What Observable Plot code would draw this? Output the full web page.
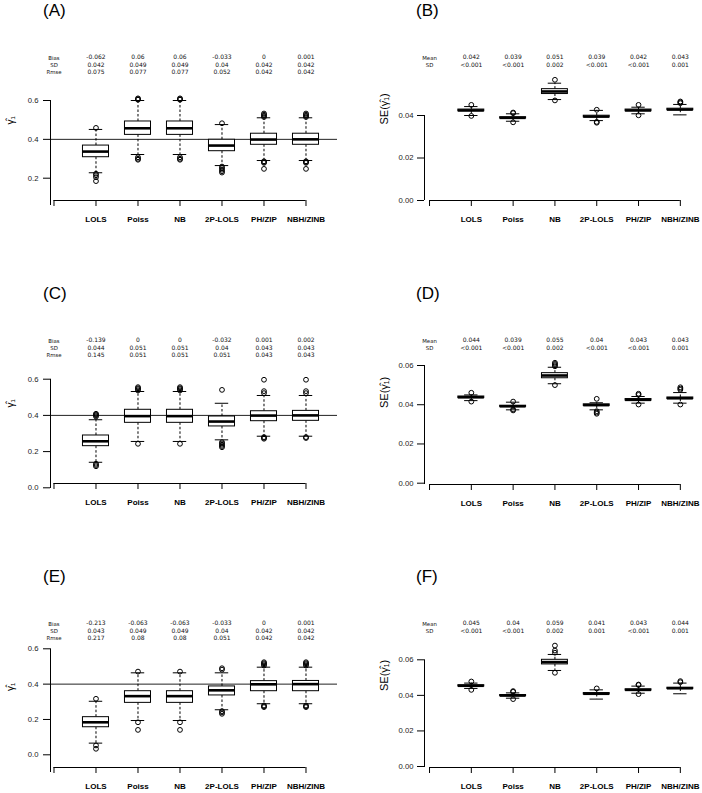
<!DOCTYPE html>
<html><head><meta charset="utf-8">
<script src="https://cdn.jsdelivr.net/npm/d3@7"></script>
<script src="https://cdn.jsdelivr.net/npm/@observablehq/plot@0.6"></script>
<style>
body{margin:0;background:#fff;}
#chart{position:relative;width:702px;height:793px;overflow:hidden;background:#fff;font-family:"Liberation Sans",Arial,sans-serif;}
.panel{position:absolute;}
.tag{position:absolute;font-size:17px;line-height:17px;color:#000;}
</style></head><body><div id="chart"></div>
<script>
const methods = ["LOLS","Poiss","NB","2P-LOLS","PH/ZIP","NBH/ZINB"];

// ---- Panel A: gamma-hat estimates
const aLow  = [0.228, 0.322, 0.322, 0.265, 0.291, 0.291];
const aQ1   = [0.308, 0.423, 0.423, 0.339, 0.372, 0.372];
const aMed  = [0.337, 0.457, 0.457, 0.368, 0.399, 0.400];
const aQ3   = [0.368, 0.492, 0.492, 0.398, 0.429, 0.429];
const aHigh = [0.451, 0.600, 0.600, 0.476, 0.511, 0.511];
const aOut  = [[0.459,0.223,0.215,0.205,0.185],[0.604,0.607,0.611,0.308,0.300,0.295],[0.604,0.607,0.611,0.308,0.300,0.295],[0.483,0.260,0.252,0.244,0.236,0.229],[0.515,0.521,0.527,0.533,0.287,0.283,0.279,0.248],[0.515,0.521,0.527,0.533,0.287,0.283,0.279,0.248]];
const aBias = ["-0.062","0.06","0.06","-0.033","0","0.001"];
const aSD   = ["0.042","0.049","0.049","0.04","0.042","0.042"];
const aRmse = ["0.075","0.077","0.077","0.052","0.042","0.042"];

// ---- Panel B: SE estimates
const bLow  = [0.0400, 0.0373, 0.0475, 0.0376, 0.0408, 0.0403];
const bQ1   = [0.0420, 0.0386, 0.0501, 0.0391, 0.0420, 0.0425];
const bMed  = [0.0424, 0.0389, 0.0513, 0.0395, 0.0424, 0.0428];
const bQ3   = [0.0428, 0.0392, 0.0524, 0.0399, 0.0428, 0.0432];
const bHigh = [0.0442, 0.0408, 0.0552, 0.0424, 0.0439, 0.0452];
const bOut  = [[0.0450,0.0398],[0.0411,0.0414,0.0368],[0.0568,0.0471],[0.0427,0.0366,0.0370],[0.0450,0.0401],[0.0458,0.0462,0.0466]];
const bMean = ["0.042","0.039","0.051","0.039","0.042","0.043"];
const bSD   = ["<0.001","<0.001","0.002","<0.001","<0.001","0.001"];

// ---- Panel C
const cLow  = [0.141, 0.256, 0.256, 0.265, 0.285, 0.285];
const cQ1   = [0.230, 0.359, 0.359, 0.339, 0.368, 0.370];
const cMed  = [0.257, 0.396, 0.396, 0.366, 0.399, 0.400];
const cQ3   = [0.289, 0.431, 0.431, 0.394, 0.423, 0.425];
const cHigh = [0.376, 0.532, 0.532, 0.467, 0.510, 0.510];
const cOut  = [[0.394,0.400,0.405,0.409,0.133,0.126,0.119],[0.538,0.545,0.550,0.556,0.243],[0.538,0.545,0.550,0.556,0.243],[0.541,0.252,0.245,0.238,0.231,0.224],[0.523,0.534,0.597,0.280,0.276,0.271],[0.523,0.534,0.597,0.280,0.275]];
const cBias = ["-0.139","0","0","-0.032","0.001","0.002"];
const cSD   = ["0.044","0.051","0.051","0.04","0.043","0.043"];
const cRmse = ["0.145","0.051","0.051","0.051","0.043","0.043"];

// ---- Panel D
const dLow  = [0.0421, 0.0374, 0.0507, 0.0374, 0.0408, 0.0408];
const dQ1   = [0.0434, 0.0389, 0.0535, 0.0394, 0.0421, 0.0429];
const dMed  = [0.0438, 0.0392, 0.0549, 0.0398, 0.0425, 0.0433];
const dQ3   = [0.0442, 0.0395, 0.0561, 0.0402, 0.0429, 0.0437];
const dHigh = [0.0450, 0.0413, 0.0591, 0.0410, 0.0442, 0.0462];
const dOut  = [[0.0461,0.0416],[0.0416,0.0376,0.0371],[0.0596,0.0602,0.0608,0.0614,0.0500],[0.0430,0.0367,0.0360,0.0354],[0.0450,0.0456,0.0401],[0.0476,0.0482,0.0489,0.0401]];
const dMean = ["0.044","0.039","0.055","0.04","0.043","0.043"];
const dSD   = ["<0.001","<0.001","0.002","<0.001","<0.001","0.001"];

// ---- Panel E
const eLow  = [0.066, 0.194, 0.194, 0.255, 0.289, 0.289];
const eQ1   = [0.156, 0.294, 0.294, 0.336, 0.360, 0.360];
const eMed  = [0.184, 0.332, 0.332, 0.365, 0.399, 0.400];
const eQ3   = [0.213, 0.360, 0.360, 0.387, 0.417, 0.418];
const eHigh = [0.303, 0.464, 0.464, 0.464, 0.496, 0.496];
const eOut  = [[0.317,0.053,0.034],[0.471,0.184,0.141],[0.471,0.184,0.141],[0.482,0.490,0.247,0.240,0.232],[0.505,0.512,0.518,0.524,0.279,0.274,0.270],[0.505,0.512,0.518,0.524,0.279,0.274,0.270]];
const eBias = ["-0.213","-0.063","-0.063","-0.033","0","0.001"];
const eSD   = ["0.043","0.049","0.049","0.04","0.042","0.042"];
const eRmse = ["0.217","0.08","0.08","0.051","0.042","0.042"];

// ---- Panel F
const fLow  = [0.0439, 0.0384, 0.0540, 0.0379, 0.0412, 0.0409];
const fQ1   = [0.0450, 0.0396, 0.0574, 0.0405, 0.0427, 0.0436];
const fMed  = [0.0454, 0.0399, 0.0587, 0.0409, 0.0431, 0.0440];
const fQ3   = [0.0457, 0.0402, 0.0600, 0.0413, 0.0434, 0.0443];
const fHigh = [0.0469, 0.0414, 0.0630, 0.0431, 0.0452, 0.0469];
const fOut  = [[0.0478,0.0431],[0.0420,0.0424,0.0379],[0.0640,0.0652,0.0680,0.0527],[0.0439],[0.0458,0.0461,0.0407],[0.0474,0.0480]];
const fMean = ["0.045","0.04","0.059","0.041","0.043","0.044"];
const fSD   = ["<0.001","<0.001","0.002","0.001","<0.001","0.001"];

const leftStatLabels = ["Bias","SD","Rmse"];
const rightStatLabels = ["Mean","SD"];
const leftTitle = "\u03B3\u0302\u2081";
const rightTitle = "SE(\u03B3\u0302\u2081)";
const leftTicks = [0.2, 0.4, 0.6];
const leftTicks0 = [0, 0.2, 0.4, 0.6];
const rightTicksB = [0, 0.02, 0.04];
const rightTicks = [0, 0.02, 0.04, 0.06];
const trueValue = 0.4;

// layout (pixel placement of each panel)
const rowTops = [0, 283, 566];
const rowHeights = [283, 283, 227];
const panels = [
  {tag:"(A)", col:0, row:0, lo:aLow, q1:aQ1, med:aMed, q3:aQ3, hi:aHigh, out:aOut, stats:[aBias,aSD,aRmse], labels:leftStatLabels, title:leftTitle, ticks:leftTicks, fmt:".1f", ref:trueValue, yRef:[[0.2,177.7],[0.6,100]], xAxisY:200},
  {tag:"(B)", col:1, row:0, lo:bLow, q1:bQ1, med:bMed, q3:bQ3, hi:bHigh, out:bOut, stats:[bMean,bSD], labels:rightStatLabels, title:rightTitle, ticks:rightTicksB, fmt:".2f", ref:null, yRef:[[0,200],[0.04,115]], xAxisY:200},
  {tag:"(C)", col:0, row:1, lo:cLow, q1:cQ1, med:cMed, q3:cQ3, hi:cHigh, out:cOut, stats:[cBias,cSD,cRmse], labels:leftStatLabels, title:leftTitle, ticks:leftTicks0, fmt:".1f", ref:trueValue, yRef:[[0,204.3],[0.6,95.7]], xAxisY:200},
  {tag:"(D)", col:1, row:1, lo:dLow, q1:dQ1, med:dMed, q3:dQ3, hi:dHigh, out:dOut, stats:[dMean,dSD], labels:rightStatLabels, title:rightTitle, ticks:rightTicks, fmt:".2f", ref:null, yRef:[[0,199.7],[0.06,82]], xAxisY:201},
  {tag:"(E)", col:0, row:2, lo:eLow, q1:eQ1, med:eMed, q3:eQ3, hi:eHigh, out:eOut, stats:[eBias,eSD,eRmse], labels:leftStatLabels, title:leftTitle, ticks:leftTicks0, fmt:".1f", ref:trueValue, yRef:[[0,188.3],[0.6,82.3]], xAxisY:201},
  {tag:"(F)", col:1, row:2, lo:fLow, q1:fQ1, med:fMed, q3:fQ3, hi:fHigh, out:fOut, stats:[fMean,fSD], labels:rightStatLabels, title:rightTitle, ticks:rightTicks, fmt:".2f", ref:null, yRef:[[0,200],[0.06,93.3]], xAxisY:201}
];

const boxHalf = 0.31, stapleHalf = 0.16;
const chart = document.getElementById("chart");

function makePanel(p) {
  const left = p.col === 0;
  const H = rowHeights[p.row];
  const ml = left ? 50 : 73, mr = left ? 14 : 0;
  const xDom = left ? [-0.083, 6.75] : [-0.12, 6.53];
  const ys = d3.scaleLinear().domain([p.yRef[0][0], p.yRef[1][0]]).range([p.yRef[0][1], p.yRef[1][1]]);
  const yAxisBottom = ys.invert(left ? p.xAxisY + 5 : p.xAxisY);
  const xAxisVal = ys.invert(p.xAxisY);
  const boxes = methods.map((m, i) => ({pos: i + 1, lo: p.lo[i], q1: p.q1[i], med: p.med[i], q3: p.q3[i], hi: p.hi[i]}));
  const outs = p.out.flatMap((arr, i) => arr.map(v => ({pos: i + 1, v})));
  const statCols = methods.map((m, i) => ({pos: i + 1, text: p.stats.map(s => s[i]).join("\n")}));
  const font = "'Liberation Sans', Arial, sans-serif";
  const statFont = "'DejaVu Sans', 'Liberation Sans', sans-serif";
  const marks = [];
  if (p.ref != null) marks.push(Plot.ruleY([p.ref], {stroke: "#222", strokeWidth: 1}));
  marks.push(
    Plot.ruleX(boxes, {x: "pos", y1: "q3", y2: "hi", stroke: "#000", strokeDasharray: "2.5,2"}),
    Plot.ruleX(boxes, {x: "pos", y1: "q1", y2: "lo", stroke: "#000", strokeDasharray: "2.5,2"}),
    Plot.ruleY(boxes, {y: "hi", x1: d => d.pos - stapleHalf, x2: d => d.pos + stapleHalf, stroke: "#000"}),
    Plot.ruleY(boxes, {y: "lo", x1: d => d.pos - stapleHalf, x2: d => d.pos + stapleHalf, stroke: "#000"}),
    Plot.rect(boxes, {x1: d => d.pos - boxHalf, x2: d => d.pos + boxHalf, y1: "q1", y2: "q3", fill: "#fff", stroke: "#000", strokeWidth: 1}),
    Plot.ruleY(boxes, {y: "med", x1: d => d.pos - boxHalf, x2: d => d.pos + boxHalf, stroke: "#000", strokeWidth: 2.6}),
    Plot.dot(outs, {x: "pos", y: "v", r: 2.4, stroke: "#000", fill: "none", strokeWidth: 1}),
    // y axis
    Plot.ruleX([xDom[0]], {y1: yAxisBottom, y2: d3.max(p.ticks), stroke: "#000"}),
    Plot.axisY({ticks: p.ticks, tickFormat: d3.format(p.fmt), tickSize: 7, tickPadding: left ? 5 : 4, fontSize: 7.7, fill: "#222", label: null}),
    // x axis
    Plot.ruleY([xAxisVal], {x1: 0, x2: 6, stroke: "#000"}),
    Plot.axisX({ticks: d3.range(0, 7), tickSize: 6, tickPadding: 10, tickFormat: d => methods[d - 1] ?? "", fontSize: 8, fontWeight: "bold", fill: "#000", label: null}),
    // stats
    Plot.text(statCols, {x: "pos", text: "text", frameAnchor: "top", lineAnchor: "top", fontSize: 6, lineHeight: 1.17, fontFamily: statFont, fill: "#111"}),
    Plot.text([{pos: 0, text: p.labels.join("\n")}], {x: "pos", text: "text", frameAnchor: "top", lineAnchor: "top", fontSize: 5.4, lineHeight: 1.3, dy: 0.4, fontFamily: statFont, fill: "#111"}),
    // y title
    Plot.text([p.title], {text: d => d, frameAnchor: "left", rotate: -90, dx: -40, dy: -3, fontSize: left ? 10 : 11, fill: "#000"})
  );
  const svg = Plot.plot({
    width: 351, height: H,
    marginLeft: ml, marginRight: mr, marginTop: 54, marginBottom: H - p.xAxisY,
    x: {domain: xDom},
    y: {domain: ys.domain(), range: ys.range()},
    style: {fontFamily: font, background: "transparent", overflow: "visible", color: "#000"},
    marks
  });
  const div = document.createElement("div");
  div.className = "panel";
  div.style.left = (p.col * 351) + "px";
  div.style.top = rowTops[p.row] + "px";
  div.appendChild(svg);
  chart.appendChild(div);
  const tag = document.createElement("div");
  tag.className = "tag";
  tag.textContent = p.tag;
  tag.style.left = (p.col * 351 + (left ? 43 : 65)) + "px";
  tag.style.top = (rowTops[p.row] + 2) + "px";
  chart.appendChild(tag);
}
panels.forEach(makePanel);
</script></body></html>
